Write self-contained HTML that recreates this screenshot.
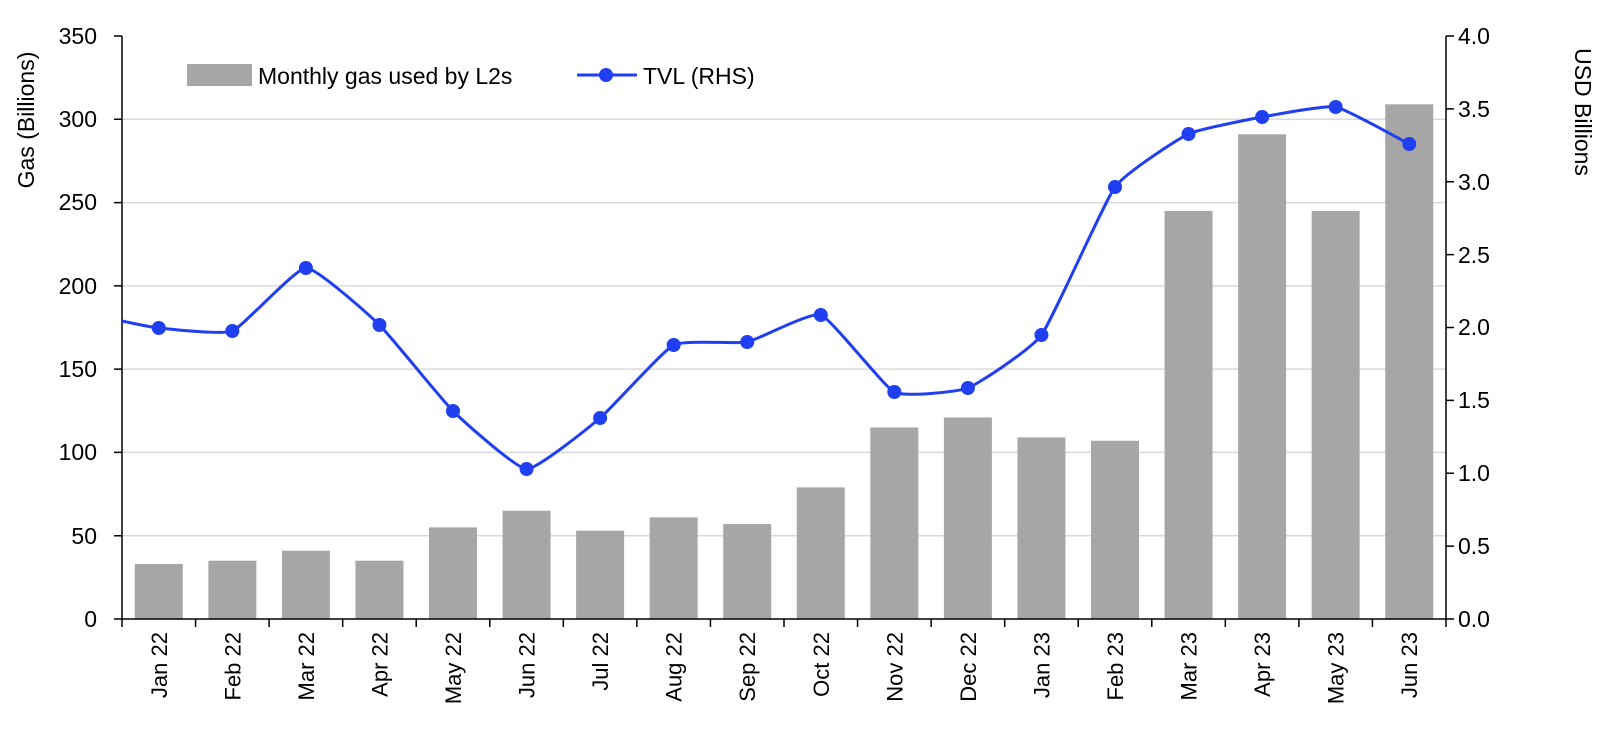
<!DOCTYPE html>
<html><head><meta charset="utf-8"><style>
html,body{margin:0;padding:0;background:#fff;overflow:hidden;width:1600px;height:735px;}
svg{display:block;}
svg text{font-family:"Liberation Sans",Arial,sans-serif;fill:#000;}
</style></head><body>
<svg id="c" width="1600" height="735" viewBox="0 0 1600 735" xmlns="http://www.w3.org/2000/svg">
<g stroke="#d9d9d9" stroke-width="1.5">
<line x1="122" x2="1446" y1="119.3" y2="119.3"/>
<line x1="122" x2="1446" y1="202.6" y2="202.6"/>
<line x1="122" x2="1446" y1="285.9" y2="285.9"/>
<line x1="122" x2="1446" y1="369.1" y2="369.1"/>
<line x1="122" x2="1446" y1="452.4" y2="452.4"/>
<line x1="122" x2="1446" y1="535.7" y2="535.7"/>
</g>
<g id="bars" fill="#a6a6a6"></g>
<g stroke="#000" stroke-width="1.5" fill="none">
<line x1="122" y1="36" x2="122" y2="619"/>
<line x1="1446" y1="36" x2="1446" y2="619"/>
<line x1="122" y1="619" x2="1446" y2="619"/>
<path d="M114 36H122M114 119.3H122M114 202.6H122M114 285.9H122M114 369.1H122M114 452.4H122M114 535.7H122M114 619H122"/>
<path d="M1446 36H1454M1446 108.9H1454M1446 181.8H1454M1446 254.6H1454M1446 327.5H1454M1446 400.4H1454M1446 473.3H1454M1446 546.1H1454M1446 619H1454"/>
<g id="xt"></g>
</g>
<path id="ln" fill="none" stroke="#1f3ff0" stroke-width="3"/>
<g id="mk" fill="#1f3ff0"></g>
<g font-size="23" text-anchor="end">
<text x="97" y="44">350</text><text x="97" y="127">300</text><text x="97" y="210">250</text>
<text x="97" y="294">200</text><text x="97" y="377">150</text><text x="97" y="460">100</text>
<text x="97" y="544">50</text><text x="97" y="627">0</text>
</g>
<g font-size="23" text-anchor="start">
<text x="1458" y="44">4.0</text><text x="1458" y="117">3.5</text><text x="1458" y="190">3.0</text>
<text x="1458" y="263">2.5</text><text x="1458" y="335">2.0</text><text x="1458" y="408">1.5</text>
<text x="1458" y="481">1.0</text><text x="1458" y="554">0.5</text><text x="1458" y="627">0.0</text>
</g>
<text font-size="23" text-anchor="middle" transform="translate(34,120) rotate(-90)">Gas (Billions)</text>
<text font-size="23" text-anchor="middle" transform="translate(1575,112) rotate(90)">USD Billions</text>
<g id="xl" font-size="22" text-anchor="end"></g>
<rect x="187" y="64" width="65" height="22" fill="#a6a6a6"/>
<text x="258" y="84" font-size="23">Monthly gas used by L2s</text>
<line x1="577" x2="637" y1="75" y2="75" stroke="#1f3ff0" stroke-width="3"/>
<circle cx="606" cy="75" r="7" fill="#1f3ff0"/>
<text x="643" y="84" font-size="23">TVL (RHS)</text>
</svg>
<script>
var ns="http://www.w3.org/2000/svg";
var labels=["Jan 22","Feb 22","Mar 22","Apr 22","May 22","Jun 22","Jul 22","Aug 22","Sep 22","Oct 22","Nov 22","Dec 22","Jan 23","Feb 23","Mar 23","Apr 23","May 23","Jun 23"];
var gas=[33,35,41,35,55,65,53,61,57,79,115,121,109,107,245,291,245,309];
var ly=[328,331,268,325,411,469,418,345,342,315,392,388,335,187,134,117,107,144];
var w=(1446-122)/18;
function el(t,a,p){var e=document.createElementNS(ns,t);for(var k in a)e.setAttribute(k,a[k]);p.appendChild(e);return e;}
var bars=document.getElementById("bars"),xt=document.getElementById("xt"),xl=document.getElementById("xl"),mk=document.getElementById("mk");
var pts=[[122,321]];
for(var i=0;i<18;i++){var cx=122+w*(i+0.5);var h=gas[i]*583/350;
el("rect",{x:cx-24,y:619-h,width:48,height:h},bars);
el("line",{x1:122+w*(i+1),x2:122+w*(i+1),y1:619,y2:627},xt);
var t=el("text",{transform:"translate("+(cx+8)+",632) rotate(-90)"},xl);t.textContent=labels[i];
pts.push([cx,ly[i]]);el("circle",{cx:cx,cy:ly[i],r:7},mk);}
el("line",{x1:122,x2:122,y1:619,y2:627},xt);
var d="M"+pts[0][0]+" "+pts[0][1];
for(var i=0;i<pts.length-1;i++){var p0=pts[Math.max(0,i-1)],p1=pts[i],p2=pts[i+1],p3=pts[Math.min(pts.length-1,i+2)];var s=14;
d+=" C"+(p1[0]+(p2[0]-p0[0])/s)+" "+(p1[1]+(p2[1]-p0[1])/s)+" "+(p2[0]-(p3[0]-p1[0])/s)+" "+(p2[1]-(p3[1]-p1[1])/s)+" "+p2[0]+" "+p2[1];}
document.getElementById("ln").setAttribute("d",d);
</script>
</body></html>
